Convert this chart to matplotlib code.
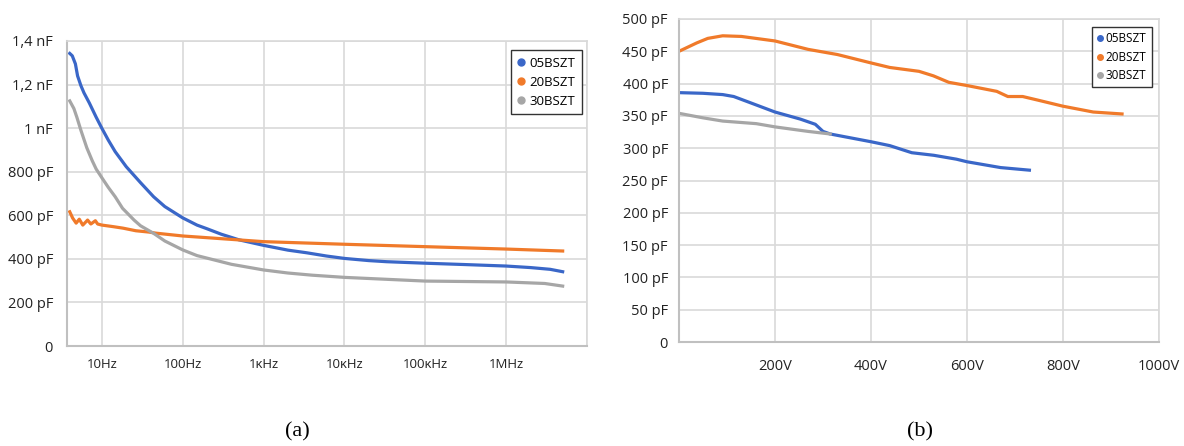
import matplotlib
matplotlib.use('Agg')
import matplotlib.pyplot as plt
from matplotlib.lines import Line2D

# (a) capacitance vs frequency
freq_05 = [4.0, 4.3, 4.7, 5.0, 5.5, 6.0, 7.0, 8.5, 10, 12, 14.6, 20, 30, 43.6, 60, 100, 150,
           200, 300, 500, 1e3, 2e3, 3.4e3, 6e3, 1e4, 2e4, 3.3e4, 1e5, 3e5, 1e6, 2e6, 3.5e6, 5e6]
cap_05 = [1343, 1332, 1295, 1240, 1195, 1162, 1115, 1050, 999, 945, 892, 823, 750, 685, 640, 588, 555,
          538, 513, 487, 462, 440, 428, 413, 402, 392, 387, 380, 374, 367, 360, 352, 341]

freq_20 = [4.0, 4.35, 4.8, 5.25, 5.8, 6.65, 7.3, 8.3, 8.85, 10, 13.7, 18.2, 26.3, 38, 46.5, 100, 1e3, 1e4, 1e5, 1e6, 5e6]
cap_20 = [616, 587, 564, 582, 555, 578, 560, 575, 560, 555, 548, 541, 529, 523, 518, 505, 479, 467, 456, 445, 436]

freq_30 = [4.0, 4.5, 4.9, 5.5, 6.5, 7.6, 8.5, 10, 12, 14.6, 18, 25, 30, 43.6, 60, 100, 150, 245,
           400, 1e3, 2e3, 4e3, 1e4, 1e5, 1e6, 3e6, 5e6]
cap_30 = [1125, 1090, 1050, 990, 910, 850, 812, 772, 728, 685, 632, 578, 552, 517, 482, 441, 415, 395,
          375, 349, 335, 325, 315, 298, 294, 287, 275]

freq_ticks = [10, 100, 1e3, 1e4, 1e5, 1e6]
freq_labels = ['10Hz', '100Hz', '1κHz', '10κHz', '100κHz', '1MHz']
cap_ticks_a = [0, 200, 400, 600, 800, 1000, 1200, 1400]
cap_labels_a = ['0', '200 pF', '400 pF', '600 pF', '800 pF', '1 nF', '1,2 nF', '1,4 nF']

# (b) capacitance vs voltage
volt_05 = [0, 50, 91, 114, 150, 200, 253, 284, 300, 315, 400, 439, 485, 531, 578, 600, 670, 730]
capv_05 = [386, 385, 383, 380, 370, 356, 345, 337, 326, 322, 310, 304, 293, 289, 283, 279, 270, 266]

volt_20 = [0, 37, 60, 91, 130, 200, 269, 330, 400, 439, 500, 530, 562, 600, 662, 685, 716, 750, 800, 863, 923]
capv_20 = [450, 463, 470, 474, 473, 466, 453, 445, 432, 425, 419, 412, 402, 397, 388, 380, 380, 374, 365, 356, 353]

volt_30 = [0, 50, 91, 161, 200, 269, 315]
capv_30 = [354, 347, 342, 338, 333, 326, 322]

volt_ticks = [200, 400, 600, 800, 1000]
volt_labels = ['200V', '400V', '600V', '800V', '1000V']
cap_ticks_b = [0, 50, 100, 150, 200, 250, 300, 350, 400, 450, 500]
cap_labels_b = ['0'] + ['%d pF' % v for v in cap_ticks_b[1:]]

names = ['05BSZT', '20BSZT', '30BSZT']
colors = ['#3a67c8', '#f07a2a', '#a6a6a6']

plt.rcParams['font.family'] = ['Open Sans', 'DejaVu Sans']

fig = plt.figure(figsize=(11.84, 4.46), dpi=100)
ax1 = fig.add_axes([67 / 1184, 100 / 446, 520 / 1184, 305 / 446])
ax2 = fig.add_axes([679 / 1184, 104 / 446, 480 / 1184, 323 / 446])

grid_c = '#d9d9d9'


def style(ax):
    ax.grid(True, color=grid_c, linewidth=1.2)
    ax.set_axisbelow(True)
    for s in ['top', 'right']:
        ax.spines[s].set_color(grid_c)
        ax.spines[s].set_linewidth(1.2)
    for s in ['left', 'bottom']:
        ax.spines[s].set_color('#c0c0c0')
        ax.spines[s].set_linewidth(1.5)
    ax.tick_params(length=0, colors='#222222')


# panel (a)
ax1.plot(freq_05, cap_05, color=colors[0], lw=2.3, solid_joinstyle='round')
ax1.plot(freq_20, cap_20, color=colors[1], lw=2.3, solid_joinstyle='round')
ax1.plot(freq_30, cap_30, color=colors[2], lw=2.3, solid_joinstyle='round')
ax1.set_xscale('log')
ax1.set_xlim(3.7, 1e7)
ax1.set_ylim(0, 1400)
ax1.set_xticks(freq_ticks + [1e7])
ax1.set_xticklabels(freq_labels + [''], fontsize=9.5)
ax1.minorticks_off()
ax1.set_yticks(cap_ticks_a)
ax1.set_yticklabels(cap_labels_a, fontsize=10.5)
style(ax1)
ax1.tick_params(axis='x', pad=9)
ax1.tick_params(axis='y', pad=10)

# panel (b)
ax2.plot(volt_05, capv_05, color=colors[0], lw=2.3, solid_joinstyle='round')
ax2.plot(volt_20, capv_20, color=colors[1], lw=2.3, solid_joinstyle='round')
ax2.plot(volt_30, capv_30, color=colors[2], lw=2.3, solid_joinstyle='round')
ax2.set_xlim(0, 1000)
ax2.set_ylim(0, 500)
ax2.set_xticks(volt_ticks)
ax2.set_xticklabels(volt_labels, fontsize=10.5)
ax2.set_yticks(cap_ticks_b)
ax2.set_yticklabels(cap_labels_b, fontsize=10.5)
style(ax2)
ax2.tick_params(axis='x', pad=12)
ax2.tick_params(axis='y', pad=8)

handles = [Line2D([], [], marker='o', linestyle='none', color=c, markersize=5) for c in colors]

leg1 = ax1.legend(handles, names, loc='upper right', bbox_to_anchor=(0.990, 0.970),
                  borderaxespad=0, fancybox=False, framealpha=1, edgecolor='#333333',
                  handlelength=0.6, handletextpad=0.3, labelspacing=0.45, fontsize=9.5,
                  borderpad=0.5)
leg1.get_frame().set_linewidth(1.0)

leg2 = ax2.legend(handles, names, loc='upper right', bbox_to_anchor=(0.985, 0.975),
                  borderaxespad=0, fancybox=False, framealpha=1, edgecolor='#333333',
                  handlelength=0.5, handletextpad=0.2, labelspacing=0.45, fontsize=8.5,
                  borderpad=0.45, markerscale=0.8)
leg2.get_frame().set_linewidth(1.0)

fig.text(297 / 1184, 1 - 432 / 446, '(a)', family='Liberation Serif', fontsize=16, ha='center', va='center')
fig.text(920 / 1184, 1 - 432 / 446, '(b)', family='Liberation Serif', fontsize=16, ha='center', va='center')

fig.savefig('out.png', dpi=100)
